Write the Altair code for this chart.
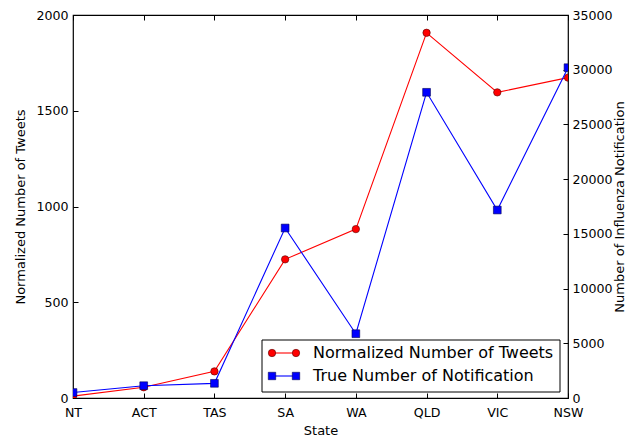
import altair as alt
import pandas as pd

states = ["NT", "ACT", "TAS", "SA", "WA", "QLD", "VIC", "NSW"]
tweets = [10, 56, 139, 724, 882, 1907, 1596, 1673]
notifications = [500, 1124, 1340, 15535, 5876, 27935, 17180, 30184]

left_ticks = [0, 500, 1000, 1500, 2000]
right_ticks = [0, 5000, 10000, 15000, 20000, 25000, 30000, 35000]

legend_labels = ["Normalized Number of Tweets", "True Number of Notification"]

df = pd.DataFrame({"state": states, "tweets": tweets, "notif": notifications})
one = pd.DataFrame({"k": [0]})

W, H = 495, 383
RED, BLUE = "#ff0000", "#0000ff"
FONT = "DejaVu Sans"

xs = alt.Scale(type="point", padding=0, domain=states)
ys_l = alt.Scale(domain=[0, 2000], nice=False, zero=True)
ys_r = alt.Scale(domain=[0, 35000], nice=False, zero=True)

base = alt.Chart(df)

# red line + left labelled axis + bottom labelled axis
red_line = base.mark_line(color=RED, strokeWidth=1.1, clip=True).encode(
    x=alt.X("state:N", sort=states, scale=xs,
            axis=alt.Axis(orient="bottom", title="State", labelAngle=0, ticks=False,
                          labelPadding=8, titlePadding=6)),
    y=alt.Y("tweets:Q", scale=ys_l,
            axis=alt.Axis(orient="left", title="Normalized Number of Tweets", values=left_ticks,
                          format="d", ticks=False, labelPadding=5, titlePadding=8)),
)

# red points + inward ticks on left side + inward ticks on bottom
red_pts = base.mark_point(shape="circle", filled=True, fill=RED, stroke="#550000",
                          strokeWidth=0.6, size=55, opacity=1, clip=True).encode(
    x=alt.X("state:N", sort=states, scale=xs,
            axis=alt.Axis(orient="top", offset=-H, labels=False, title=None, tickSize=5)),
    y=alt.Y("tweets:Q", scale=ys_l,
            axis=alt.Axis(orient="right", offset=-W, labels=False, title=None, values=left_ticks,
                          tickSize=5)),
)

# blue line + right labelled axis + top inward ticks
blue_line = base.mark_line(color=BLUE, strokeWidth=1.1, clip=True).encode(
    x=alt.X("state:N", sort=states, scale=xs,
            axis=alt.Axis(orient="bottom", offset=-H, labels=False, title=None, tickSize=5)),
    y=alt.Y("notif:Q", scale=ys_r,
            axis=alt.Axis(orient="right", title="Number of Influenza Notification", values=right_ticks,
                          format="d", ticks=False, labelPadding=4, titlePadding=14, titleAngle=270)),
)

# blue squares + inward ticks on right side
blue_pts = base.mark_point(shape="square", filled=True, fill=BLUE, stroke="#000055",
                           strokeWidth=0.6, size=60, opacity=1, clip=True).encode(
    x=alt.X("state:N", sort=states, scale=xs, axis=None),
    y=alt.Y("notif:Q", scale=ys_r,
            axis=alt.Axis(orient="left", offset=-W, labels=False, title=None, values=right_ticks,
                          tickSize=5)),
)

# legend
lg = alt.Chart(one)
lx0, lx1, ly0, ly1 = 189, 487, 325, 377
rows_y = [338, 361]
box = lg.mark_rect(fill="white", stroke="black", strokeWidth=1).encode(
    x=alt.value(lx0), x2=alt.value(lx1), y=alt.value(ly0), y2=alt.value(ly1))
legend_layers = [box]
for yy, lab, col, shp, edge in [(rows_y[0], legend_labels[0], RED, "circle", "#550000"),
                                (rows_y[1], legend_labels[1], BLUE, "square", "#000055")]:
    legend_layers.append(lg.mark_rule(color=col, strokeWidth=1.1).encode(
        x=alt.value(199), x2=alt.value(223), y=alt.value(yy)))
    for px in (199, 223):
        legend_layers.append(lg.mark_point(shape=shp, filled=True, fill=col, stroke=edge,
                                           strokeWidth=0.6, size=55, opacity=1).encode(
            x=alt.value(px), y=alt.value(yy)))
    legend_layers.append(lg.mark_text(text=lab, align="left", baseline="middle", font=FONT,
                                      fontSize=16, color="black").encode(
        x=alt.value(240), y=alt.value(yy)))

chart = alt.layer(red_line, red_pts, blue_line, blue_pts, *legend_layers).resolve_scale(
    y="independent"
).resolve_axis(x="independent", y="independent").properties(
    width=W, height=H,
    autosize=alt.AutoSizeParams(type="none"),
    padding={"left": 73, "top": 15, "right": 70, "bottom": 39},
    background="white",
).configure_view(stroke="black", strokeWidth=1.2).configure_axis(
    labelFont=FONT, titleFont=FONT, labelFontSize=12.6, titleFontSize=13,
    titleFontWeight="normal", labelColor="black", titleColor="black",
    tickColor="black", tickWidth=1, grid=False, domain=False,
)

chart.save("out.html", embed_options={"renderer": "svg", "actions": False})
